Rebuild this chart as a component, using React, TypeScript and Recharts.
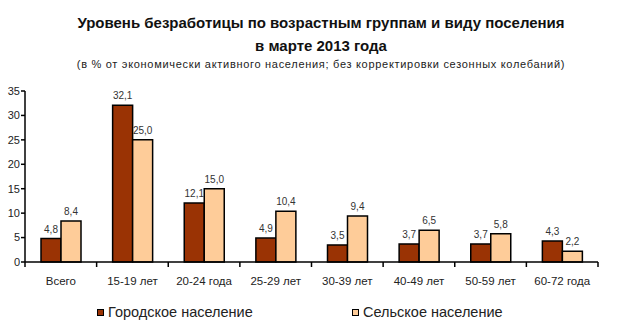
import { BarChart, Bar, XAxis, YAxis, LabelList } from 'recharts';

const categories = ['Всего', '15-19 лет', '20-24 года', '25-29 лет', '30-39 лет', '40-49 лет', '50-59 лет', '60-72 года'];
const urban = [4.8, 32.1, 12.1, 4.9, 3.5, 3.7, 3.7, 4.3];
const rural = [8.4, 25.0, 15.0, 10.4, 9.4, 6.5, 5.8, 2.2];
const yTicks = [0, 5, 10, 15, 20, 25, 30, 35];

const URBAN_COLOR = '#9a3304';
const RURAL_COLOR = '#fecc99';
const FONT = 'Arial, "Liberation Sans", sans-serif';

const data = categories.map((name, i) => ({ name, urban: urban[i], rural: rural[i] }));

const W = 617;
const H = 327;
const margin = { top: 91, right: 19, bottom: 25, left: 0 };
const Y_WIDTH = 25;
const plotWidth = W - margin.left - margin.right - Y_WIDTH;
const band = plotWidth / categories.length;

const fmt = (v: any) => Number(v).toFixed(1).replace('.', ',');

// category label plus the boundary tick marks like in the original
const CategoryTick = ({ x, y, payload, index }: any) => {
  const left = x - band / 2;
  return (
    <g>
      <line x1={left} x2={left} y1={y - 8} y2={y - 3} stroke="#000" strokeWidth={1.5} />
      {index === categories.length - 1 && (
        <line x1={x + band / 2} x2={x + band / 2} y1={y - 8} y2={y - 3} stroke="#000" strokeWidth={1.5} />
      )}
      <text x={x} y={y + 15} textAnchor="middle" fontSize={11.5} fill="#222" fontFamily={FONT}>
        {payload.value}
      </text>
    </g>
  );
};

const LegendItem = ({ color, label, left }: { color: string; label: string; left: number }) => (
  <div style={{ position: 'absolute', left, top: 304, display: 'flex', alignItems: 'center' }}>
    <div style={{ width: 5, height: 5, background: color, border: '1.5px solid #000', marginRight: 4 }} />
    <span style={{ fontSize: 14.5, color: '#222', fontFamily: FONT }}>{label}</span>
  </div>
);

export default function App() {
  return (
    <div style={{ position: 'absolute', left: 0, top: 0, width: W, height: H, background: '#fff', fontFamily: FONT }}>
      <div style={{ position: 'absolute', left: 0, width: 642, top: 11, textAlign: 'center', fontWeight: 'bold', fontSize: 15, color: '#111', lineHeight: '23px' }}>
        Уровень безработицы по возрастным группам и виду поселения
        <br />
        в марте 2013 года
      </div>
      <div style={{ position: 'absolute', left: 0, width: 642, top: 58, textAlign: 'center', fontSize: 11, color: '#222', letterSpacing: 0.7 }}>
        (в % от экономически активного населения; без корректировки сезонных колебаний)
      </div>
      <div style={{ position: 'absolute', left: 0, top: 0 }}>
        <BarChart width={W} height={H} data={data} margin={margin} barGap={0} barSize={20}>
          <XAxis
            dataKey="name"
            height={40}
            axisLine={{ stroke: '#000', strokeWidth: 1.5 }}
            tickLine={false}
            tick={<CategoryTick />}
            interval={0}
          />
          <YAxis
            width={Y_WIDTH}
            domain={[0, 35]}
            ticks={yTicks}
            interval={0}
            axisLine={{ stroke: '#000', strokeWidth: 1.5 }}
            tickLine={{ stroke: '#000', strokeWidth: 1.5 }}
            tickSize={4}
            tickMargin={1}
            tick={{ fontSize: 11, fill: '#222', fontFamily: FONT }}
          />
          <Bar dataKey="urban" fill={URBAN_COLOR} stroke="#000" strokeWidth={1.5} isAnimationActive={false}>
            <LabelList dataKey="urban" position="top" offset={6} formatter={fmt} style={{ fontSize: 10, fill: '#333', fontFamily: FONT }} />
          </Bar>
          <Bar dataKey="rural" fill={RURAL_COLOR} stroke="#000" strokeWidth={1.5} isAnimationActive={false}>
            <LabelList dataKey="rural" position="top" offset={6} formatter={fmt} style={{ fontSize: 10, fill: '#333', fontFamily: FONT }} />
          </Bar>
        </BarChart>
      </div>
      <LegendItem color={URBAN_COLOR} label="Городское население" left={97} />
      <LegendItem color={RURAL_COLOR} label="Сельское население" left={352} />
    </div>
  );
}
